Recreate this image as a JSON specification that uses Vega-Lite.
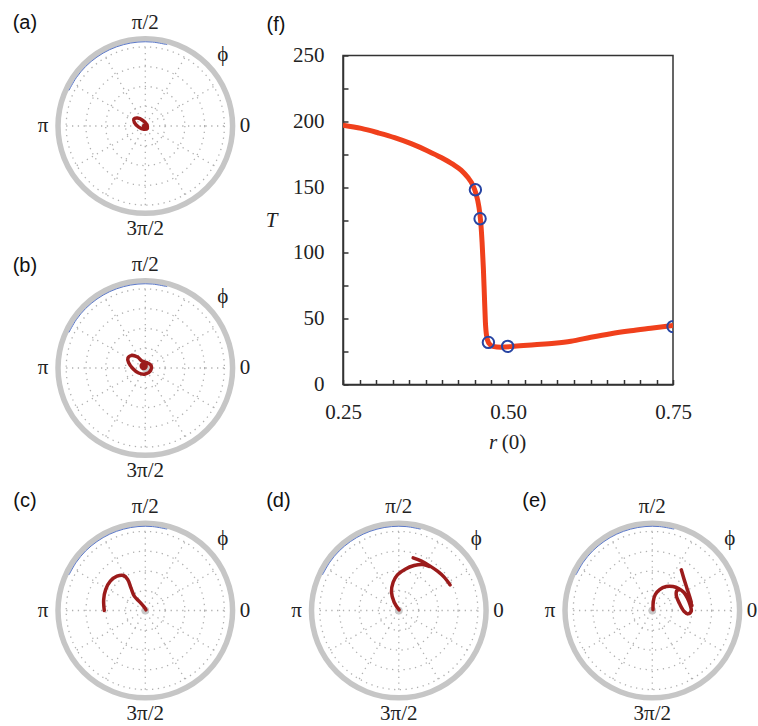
{
 "$schema": "https://vega.github.io/schema/vega-lite/v6.json",
 "padding": {"left": 12, "top": 11.5, "right": 0, "bottom": 0},
 "background": "white",
 "config": {"view": {"stroke": null}},
 "datasets": {
  "rays": [
   {"x": -0.92, "y": 0, "x2": 0.92, "y2": 0},
   {"x": -0.797, "y": -0.46, "x2": 0.797, "y2": 0.46},
   {"x": -0.46, "y": -0.797, "x2": 0.46, "y2": 0.797},
   {"x": 0, "y": -0.92, "x2": 0, "y2": 0.92},
   {"x": 0.46, "y": -0.797, "x2": -0.46, "y2": 0.797},
   {"x": 0.797, "y": -0.46, "x2": -0.797, "y2": 0.46}
  ],
  "circles": [
   {"x": 0, "y": 0, "r": 0.23},
   {"x": 0, "y": 0, "r": 0.46},
   {"x": 0, "y": 0, "r": 0.69},
   {"x": 0, "y": 0, "r": 0.92}
  ],
  "ring": [{"x": 0, "y": 0, "r": 1.015}],
  "center": [{"x": 0, "y": 0}],
  "blue": [
   {"i": 0, "x": 0.254, "y": 0.946},
   {"i": 1, "x": 0.085, "y": 0.976},
   {"i": 2, "x": -0.085, "y": 0.976},
   {"i": 3, "x": -0.254, "y": 0.946},
   {"i": 4, "x": -0.414, "y": 0.888},
   {"i": 5, "x": -0.562, "y": 0.802},
   {"i": 6, "x": -0.693, "y": 0.693},
   {"i": 7, "x": -0.802, "y": 0.562},
   {"i": 8, "x": -0.888, "y": 0.414}
  ],
  "labels": [
   {"t": "π/2", "x": 0, "y": 1.2},
   {"t": "3π/2", "x": 0, "y": -1.2},
   {"t": "π", "x": -1.19, "y": 0},
   {"t": "0", "x": 1.16, "y": 0},
   {"t": "ϕ", "x": 0.9, "y": 0.83}
  ],
  "plabels": [
   {"panel": "a", "t": "(a)", "x": -1.4, "y": 1.2},
   {"panel": "b", "t": "(b)", "x": -1.4, "y": 1.19},
   {"panel": "c", "t": "(c)", "x": -1.4, "y": 1.27},
   {"panel": "d", "t": "(d)", "x": -1.4, "y": 1.27},
   {"panel": "e", "t": "(e)", "x": -1.37, "y": 1.27}
  ],
  "traj": [
   {"panel": "a", "seg": 1, "i": 0, "x": 0.024, "y": -0.028},
   {"panel": "a", "seg": 1, "i": 1, "x": 0.019, "y": 0.015},
   {"panel": "a", "seg": 1, "i": 2, "x": -0.028, "y": 0.064},
   {"panel": "a", "seg": 1, "i": 3, "x": -0.091, "y": 0.092},
   {"panel": "a", "seg": 1, "i": 4, "x": -0.132, "y": 0.082},
   {"panel": "a", "seg": 1, "i": 5, "x": -0.127, "y": 0.04},
   {"panel": "a", "seg": 1, "i": 6, "x": -0.08, "y": -0.01},
   {"panel": "a", "seg": 1, "i": 7, "x": -0.017, "y": -0.038},
   {"panel": "a", "seg": 1, "i": 8, "x": 0.024, "y": -0.028},
   {"panel": "a", "seg": 1, "i": 9, "x": 0.019, "y": 0.015},

   {"panel": "b", "seg": 1, "i": 0, "x": -0.155, "y": 0.147},
   {"panel": "b", "seg": 1, "i": 1, "x": -0.089, "y": 0.128},
   {"panel": "b", "seg": 1, "i": 2, "x": -0.039, "y": 0.081},
   {"panel": "b", "seg": 1, "i": 3, "x": 0.019, "y": 0.062},
   {"panel": "b", "seg": 1, "i": 4, "x": 0.066, "y": 0.031},
   {"panel": "b", "seg": 1, "i": 5, "x": 0.058, "y": -0.035},
   {"panel": "b", "seg": 1, "i": 6, "x": 0.0, "y": -0.07},
   {"panel": "b", "seg": 1, "i": 7, "x": -0.078, "y": -0.058},
   {"panel": "b", "seg": 1, "i": 8, "x": -0.143, "y": -0.008},
   {"panel": "b", "seg": 1, "i": 9, "x": -0.194, "y": 0.062},
   {"panel": "b", "seg": 1, "i": 10, "x": -0.202, "y": 0.116},
   {"panel": "b", "seg": 1, "i": 11, "x": -0.155, "y": 0.147},
   {"panel": "b", "seg": 1, "i": 12, "x": -0.089, "y": 0.128},

   {"panel": "c", "seg": 1, "i": 0, "x": -0.477, "y": 0.0},
   {"panel": "c", "seg": 1, "i": 1, "x": -0.484, "y": 0.128},
   {"panel": "c", "seg": 1, "i": 2, "x": -0.461, "y": 0.244},
   {"panel": "c", "seg": 1, "i": 3, "x": -0.407, "y": 0.341},
   {"panel": "c", "seg": 1, "i": 4, "x": -0.329, "y": 0.399},
   {"panel": "c", "seg": 1, "i": 5, "x": -0.252, "y": 0.407},
   {"panel": "c", "seg": 1, "i": 6, "x": -0.205, "y": 0.36},
   {"panel": "c", "seg": 1, "i": 7, "x": -0.167, "y": 0.264},
   {"panel": "c", "seg": 1, "i": 8, "x": -0.128, "y": 0.167},
   {"panel": "c", "seg": 1, "i": 9, "x": -0.066, "y": 0.101},
   {"panel": "c", "seg": 1, "i": 10, "x": -0.012, "y": 0.039},
   {"panel": "c", "seg": 1, "i": 11, "x": 0.008, "y": 0.008},

   {"panel": "d", "seg": 1, "i": 0, "x": 0.004, "y": 0.008},
   {"panel": "d", "seg": 1, "i": 1, "x": -0.054, "y": 0.097},
   {"panel": "d", "seg": 1, "i": 2, "x": -0.085, "y": 0.213},
   {"panel": "d", "seg": 1, "i": 3, "x": -0.066, "y": 0.329},
   {"panel": "d", "seg": 1, "i": 4, "x": -0.016, "y": 0.415},
   {"panel": "d", "seg": 1, "i": 5, "x": 0.074, "y": 0.481},
   {"panel": "d", "seg": 1, "i": 6, "x": 0.178, "y": 0.523},
   {"panel": "d", "seg": 1, "i": 7, "x": 0.275, "y": 0.535},
   {"panel": "d", "seg": 1, "i": 8, "x": 0.353, "y": 0.512},
   {"panel": "d", "seg": 2, "i": 0, "x": 0.167, "y": 0.612},
   {"panel": "d", "seg": 2, "i": 1, "x": 0.264, "y": 0.574},
   {"panel": "d", "seg": 2, "i": 2, "x": 0.36, "y": 0.519},
   {"panel": "d", "seg": 2, "i": 3, "x": 0.45, "y": 0.457},
   {"panel": "d", "seg": 2, "i": 4, "x": 0.527, "y": 0.388},
   {"panel": "d", "seg": 2, "i": 5, "x": 0.597, "y": 0.298},

   {"panel": "e", "seg": 1, "i": 0, "x": 0.008, "y": 0.008},
   {"panel": "e", "seg": 1, "i": 1, "x": 0.012, "y": 0.109},
   {"panel": "e", "seg": 1, "i": 2, "x": 0.035, "y": 0.186},
   {"panel": "e", "seg": 1, "i": 3, "x": 0.085, "y": 0.244},
   {"panel": "e", "seg": 1, "i": 4, "x": 0.163, "y": 0.279},
   {"panel": "e", "seg": 1, "i": 5, "x": 0.24, "y": 0.279},
   {"panel": "e", "seg": 1, "i": 6, "x": 0.306, "y": 0.256},
   {"panel": "e", "seg": 1, "i": 7, "x": 0.368, "y": 0.209},
   {"panel": "e", "seg": 1, "i": 8, "x": 0.407, "y": 0.147},
   {"panel": "e", "seg": 1, "i": 9, "x": 0.438, "y": 0.07},
   {"panel": "e", "seg": 1, "i": 10, "x": 0.453, "y": -0.008},
   {"panel": "e", "seg": 1, "i": 11, "x": 0.415, "y": -0.039},
   {"panel": "e", "seg": 1, "i": 12, "x": 0.368, "y": -0.008},
   {"panel": "e", "seg": 1, "i": 13, "x": 0.318, "y": 0.078},
   {"panel": "e", "seg": 1, "i": 14, "x": 0.279, "y": 0.174},
   {"panel": "e", "seg": 1, "i": 15, "x": 0.287, "y": 0.233},
   {"panel": "e", "seg": 1, "i": 16, "x": 0.329, "y": 0.24},
   {"panel": "e", "seg": 1, "i": 17, "x": 0.384, "y": 0.194},
   {"panel": "e", "seg": 1, "i": 18, "x": 0.434, "y": 0.116},
   {"panel": "e", "seg": 1, "i": 19, "x": 0.461, "y": 0.058},
   {"panel": "e", "seg": 2, "i": 0, "x": 0.337, "y": 0.473},
   {"panel": "e", "seg": 2, "i": 1, "x": 0.368, "y": 0.368},
   {"panel": "e", "seg": 2, "i": 2, "x": 0.399, "y": 0.271},
   {"panel": "e", "seg": 2, "i": 3, "x": 0.434, "y": 0.163},
   {"panel": "e", "seg": 2, "i": 4, "x": 0.453, "y": 0.097}
  ],
  "dots": [
   {"panel": "a", "x": -0.005, "y": -0.005},
   {"panel": "b", "x": -0.019, "y": 0.023}
  ],
  "curve": [
   {"r": 0.25, "T": 197.1}, {"r": 0.2777, "T": 194.6}, {"r": 0.3029, "T": 191.3},
   {"r": 0.3281, "T": 187.6}, {"r": 0.3533, "T": 183.0}, {"r": 0.3785, "T": 177.5},
   {"r": 0.3987, "T": 172.5}, {"r": 0.4163, "T": 167.4}, {"r": 0.4289, "T": 162.9},
   {"r": 0.439, "T": 157.4}, {"r": 0.4466, "T": 151.6}, {"r": 0.4516, "T": 144.8},
   {"r": 0.4556, "T": 136.0}, {"r": 0.4587, "T": 123.4}, {"r": 0.4607, "T": 108.3},
   {"r": 0.4627, "T": 88.1}, {"r": 0.4642, "T": 68.0}, {"r": 0.4657, "T": 47.8},
   {"r": 0.4677, "T": 36.5}, {"r": 0.4708, "T": 31.5}, {"r": 0.4768, "T": 29.0},
   {"r": 0.4894, "T": 28.4}, {"r": 0.5096, "T": 29.0}, {"r": 0.5398, "T": 30.2},
   {"r": 0.5701, "T": 31.4}, {"r": 0.5953, "T": 32.9}, {"r": 0.6255, "T": 35.9},
   {"r": 0.6557, "T": 38.6}, {"r": 0.686, "T": 40.8}, {"r": 0.7162, "T": 42.7},
   {"r": 0.75, "T": 44.8}
  ],
  "marks": [
   {"r": 0.4506, "T": 148}, {"r": 0.4577, "T": 126}, {"r": 0.4703, "T": 32},
   {"r": 0.4995, "T": 29}, {"r": 0.75, "T": 44}
  ],
  "ftitle": [{"t": "(f)", "r": 0.25, "T": 250}],
  "rlab": [{"t": "r", "r": 0.5, "T": 0}],
  "zlab": [{"t": "(0)", "r": 0.5, "T": 0}]
 },
 "vconcat": [
  {
   "hconcat": [
    {
     "vconcat": [
      {
       "width": 240, "height": 230,
       "encoding": {
        "x": {"field": "x", "type": "quantitative", "scale": {"domain": [-1.55, 1.2407], "nice": false, "zero": false}, "axis": null},
        "y": {"field": "y", "type": "quantitative", "scale": {"domain": [-1.3544, 1.32], "nice": false, "zero": false}, "axis": null}
       },
       "layer": [
        {"data": {"name": "rays"}, "mark": {"type": "rule", "color": "#b0b0b0", "strokeWidth": 1.3, "strokeDash": [1.3, 4.5]}, "encoding": {"x2": {"field": "x2"}, "y2": {"field": "y2"}}},
        {"data": {"name": "circles"}, "mark": {"type": "point", "shape": "circle", "filled": false, "color": "#b0b0b0", "strokeWidth": 1.3, "strokeDash": [1.3, 4.5], "opacity": 1}, "encoding": {"size": {"field": "r", "type": "quantitative", "scale": {"type": "pow", "exponent": 2, "domain": [0, 1], "range": [0, 29584]}, "legend": null}}},
        {"data": {"name": "ring"}, "mark": {"type": "point", "shape": "circle", "filled": false, "color": "#c6c6c6", "strokeWidth": 5.5, "opacity": 1}, "encoding": {"size": {"field": "r", "type": "quantitative", "scale": {"type": "pow", "exponent": 2, "domain": [0, 1], "range": [0, 29584]}, "legend": null}}},
        {"data": {"name": "blue"}, "mark": {"type": "line", "color": "#5b78c8", "strokeWidth": 1, "interpolate": "cardinal"}, "encoding": {"order": {"field": "i"}}},
        {"data": {"name": "center"}, "mark": {"type": "point", "shape": "circle", "filled": true, "color": "#c8c8c8", "size": 60, "opacity": 1}},
        {"data": {"name": "traj"}, "transform": [{"filter": "datum.panel == 'a'"}], "mark": {"type": "line", "color": "#9b1b1b", "strokeWidth": 3.5, "interpolate": "catmull-rom", "strokeCap": "round", "strokeJoin": "round"}, "encoding": {"order": {"field": "i"}, "detail": {"field": "seg"}}},
        {"data": {"name": "dots"}, "transform": [{"filter": "datum.panel == 'a'"}], "mark": {"type": "point", "shape": "circle", "filled": true, "color": "#9b1b1b", "size": 35, "opacity": 1}},
        {"data": {"name": "labels"}, "mark": {"type": "text", "font": "Liberation Serif", "fontSize": 21, "color": "#222"}, "encoding": {"text": {"field": "t"}}},
        {"data": {"name": "plabels"}, "transform": [{"filter": "datum.panel == 'a'"}], "mark": {"type": "text", "font": "Liberation Sans", "fontSize": 20, "color": "#111"}, "encoding": {"text": {"field": "t"}}}
       ]
      },
      {
       "width": 240, "height": 230,
       "encoding": {
        "x": {"field": "x", "type": "quantitative", "scale": {"domain": [-1.55, 1.2407], "nice": false, "zero": false}, "axis": null},
        "y": {"field": "y", "type": "quantitative", "scale": {"domain": [-1.3544, 1.32], "nice": false, "zero": false}, "axis": null}
       },
       "layer": [
        {"data": {"name": "rays"}, "mark": {"type": "rule", "color": "#b0b0b0", "strokeWidth": 1.3, "strokeDash": [1.3, 4.5]}, "encoding": {"x2": {"field": "x2"}, "y2": {"field": "y2"}}},
        {"data": {"name": "circles"}, "mark": {"type": "point", "shape": "circle", "filled": false, "color": "#b0b0b0", "strokeWidth": 1.3, "strokeDash": [1.3, 4.5], "opacity": 1}, "encoding": {"size": {"field": "r", "type": "quantitative", "scale": {"type": "pow", "exponent": 2, "domain": [0, 1], "range": [0, 29584]}, "legend": null}}},
        {"data": {"name": "ring"}, "mark": {"type": "point", "shape": "circle", "filled": false, "color": "#c6c6c6", "strokeWidth": 5.5, "opacity": 1}, "encoding": {"size": {"field": "r", "type": "quantitative", "scale": {"type": "pow", "exponent": 2, "domain": [0, 1], "range": [0, 29584]}, "legend": null}}},
        {"data": {"name": "blue"}, "mark": {"type": "line", "color": "#5b78c8", "strokeWidth": 1, "interpolate": "cardinal"}, "encoding": {"order": {"field": "i"}}},
        {"data": {"name": "center"}, "mark": {"type": "point", "shape": "circle", "filled": true, "color": "#c8c8c8", "size": 60, "opacity": 1}},
        {"data": {"name": "traj"}, "transform": [{"filter": "datum.panel == 'b'"}], "mark": {"type": "line", "color": "#9b1b1b", "strokeWidth": 3.5, "interpolate": "catmull-rom", "strokeCap": "round", "strokeJoin": "round"}, "encoding": {"order": {"field": "i"}, "detail": {"field": "seg"}}},
        {"data": {"name": "dots"}, "transform": [{"filter": "datum.panel == 'b'"}], "mark": {"type": "point", "shape": "circle", "filled": true, "color": "#9b1b1b", "size": 70, "opacity": 1}},
        {"data": {"name": "labels"}, "mark": {"type": "text", "font": "Liberation Serif", "fontSize": 21, "color": "#222"}, "encoding": {"text": {"field": "t"}}},
        {"data": {"name": "plabels"}, "transform": [{"filter": "datum.panel == 'b'"}], "mark": {"type": "text", "font": "Liberation Sans", "fontSize": 20, "color": "#111"}, "encoding": {"text": {"field": "t"}}}
       ]
      }
     ],
     "spacing": 11
    },
    {
     "vconcat": [
      {
       "width": 330, "height": 1,
       "data": {"name": "ftitle"},
       "mark": {"type": "rule", "opacity": 0, "strokeOpacity": 0},
       "encoding": {"y": {"value": 0}}
      },
      {
       "width": 330, "height": 329,
       "view": {"stroke": "#333", "strokeWidth": 1.5},
       "encoding": {
        "x": {"field": "r", "type": "quantitative", "scale": {"domain": [0.25, 0.75], "nice": false, "zero": false},
         "axis": {"values": [0.25, 0.275, 0.3, 0.325, 0.35, 0.375, 0.4, 0.425, 0.45, 0.475, 0.5, 0.525, 0.55, 0.575, 0.6, 0.625, 0.65, 0.675, 0.7, 0.725, 0.75],
          "labelExpr": "datum.value == 0.25 || datum.value == 0.5 || datum.value == 0.75 ? format(datum.value, '.2f') : ''",
          "tickSize": -5, "tickWidth": 1.5, "tickColor": "#333", "domainColor": "#333", "domainWidth": 1.5,
          "labelFont": "Liberation Serif", "labelFontSize": 21, "labelColor": "#222", "labelPadding": 21.5,
          "labelOverlap": false, "labelFlush": false, "grid": false, "title": null}},
        "y": {"field": "T", "type": "quantitative", "scale": {"domain": [0, 250], "nice": false, "zero": false},
         "axis": {"values": [0, 25, 50, 75, 100, 125, 150, 175, 200, 225, 250],
          "labelExpr": "datum.value % 50 == 0 ? datum.label : ''",
          "tickSize": -5, "tickWidth": 1.5, "tickColor": "#333", "domainColor": "#333", "domainWidth": 1.5,
          "labelFont": "Liberation Serif", "labelFontSize": 21, "labelColor": "#222", "labelPadding": 24,
          "labelOverlap": false, "labelFlush": false, "grid": false,
          "title": "T", "titleFont": "Liberation Serif", "titleFontStyle": "italic", "titleFontWeight": "normal", "titleFontSize": 21,
          "titleColor": "#222", "titleAngle": 0, "titleX": -72, "titleY": 165, "titleAlign": "center", "titleBaseline": "middle"}}
       },
       "layer": [
        {"data": {"name": "curve"}, "mark": {"type": "line", "color": "#f0401c", "strokeWidth": 5, "interpolate": "monotone", "clip": true}},
        {"data": {"name": "marks"}, "mark": {"type": "point", "shape": "circle", "filled": false, "color": "#2845a3", "strokeWidth": 2, "size": 130, "opacity": 1, "clip": true}},
        {"data": {"name": "ftitle"}, "mark": {"type": "text", "font": "Liberation Sans", "fontSize": 20, "color": "#111", "dx": -67, "dy": -31}, "encoding": {"text": {"field": "t"}}},
        {"data": {"name": "rlab"}, "mark": {"type": "text", "font": "Liberation Serif", "fontStyle": "italic", "fontSize": 21, "color": "#222", "dx": -15, "dy": 58}, "encoding": {"text": {"field": "t"}}},
        {"data": {"name": "zlab"}, "mark": {"type": "text", "font": "Liberation Serif", "fontSize": 21, "color": "#222", "dx": 6, "dy": 58}, "encoding": {"text": {"field": "t"}}}
       ]
      }
     ],
     "spacing": 0
    }
   ],
   "spacing": 12
  },
  {
   "hconcat": [
    {
     "width": 240, "height": 230,
     "encoding": {
      "x": {"field": "x", "type": "quantitative", "scale": {"domain": [-1.55, 1.2407], "nice": false, "zero": false}, "axis": null},
      "y": {"field": "y", "type": "quantitative", "scale": {"domain": [-1.3544, 1.32], "nice": false, "zero": false}, "axis": null}
     },
     "layer": [
      {"data": {"name": "rays"}, "mark": {"type": "rule", "color": "#b0b0b0", "strokeWidth": 1.3, "strokeDash": [1.3, 4.5]}, "encoding": {"x2": {"field": "x2"}, "y2": {"field": "y2"}}},
      {"data": {"name": "circles"}, "mark": {"type": "point", "shape": "circle", "filled": false, "color": "#b0b0b0", "strokeWidth": 1.3, "strokeDash": [1.3, 4.5], "opacity": 1}, "encoding": {"size": {"field": "r", "type": "quantitative", "scale": {"type": "pow", "exponent": 2, "domain": [0, 1], "range": [0, 29584]}, "legend": null}}},
      {"data": {"name": "ring"}, "mark": {"type": "point", "shape": "circle", "filled": false, "color": "#c6c6c6", "strokeWidth": 5.5, "opacity": 1}, "encoding": {"size": {"field": "r", "type": "quantitative", "scale": {"type": "pow", "exponent": 2, "domain": [0, 1], "range": [0, 29584]}, "legend": null}}},
      {"data": {"name": "blue"}, "mark": {"type": "line", "color": "#5b78c8", "strokeWidth": 1, "interpolate": "cardinal"}, "encoding": {"order": {"field": "i"}}},
      {"data": {"name": "center"}, "mark": {"type": "point", "shape": "circle", "filled": true, "color": "#c8c8c8", "size": 60, "opacity": 1}},
      {"data": {"name": "traj"}, "transform": [{"filter": "datum.panel == 'c'"}], "mark": {"type": "line", "color": "#9b1b1b", "strokeWidth": 3.5, "interpolate": "catmull-rom", "strokeCap": "round", "strokeJoin": "round"}, "encoding": {"order": {"field": "i"}, "detail": {"field": "seg"}}},
      {"data": {"name": "labels"}, "mark": {"type": "text", "font": "Liberation Serif", "fontSize": 21, "color": "#222"}, "encoding": {"text": {"field": "t"}}},
      {"data": {"name": "plabels"}, "transform": [{"filter": "datum.panel == 'c'"}], "mark": {"type": "text", "font": "Liberation Sans", "fontSize": 20, "color": "#111"}, "encoding": {"text": {"field": "t"}}}
     ]
    },
    {
     "width": 240, "height": 230,
     "encoding": {
      "x": {"field": "x", "type": "quantitative", "scale": {"domain": [-1.55, 1.2407], "nice": false, "zero": false}, "axis": null},
      "y": {"field": "y", "type": "quantitative", "scale": {"domain": [-1.3544, 1.32], "nice": false, "zero": false}, "axis": null}
     },
     "layer": [
      {"data": {"name": "rays"}, "mark": {"type": "rule", "color": "#b0b0b0", "strokeWidth": 1.3, "strokeDash": [1.3, 4.5]}, "encoding": {"x2": {"field": "x2"}, "y2": {"field": "y2"}}},
      {"data": {"name": "circles"}, "mark": {"type": "point", "shape": "circle", "filled": false, "color": "#b0b0b0", "strokeWidth": 1.3, "strokeDash": [1.3, 4.5], "opacity": 1}, "encoding": {"size": {"field": "r", "type": "quantitative", "scale": {"type": "pow", "exponent": 2, "domain": [0, 1], "range": [0, 29584]}, "legend": null}}},
      {"data": {"name": "ring"}, "mark": {"type": "point", "shape": "circle", "filled": false, "color": "#c6c6c6", "strokeWidth": 5.5, "opacity": 1}, "encoding": {"size": {"field": "r", "type": "quantitative", "scale": {"type": "pow", "exponent": 2, "domain": [0, 1], "range": [0, 29584]}, "legend": null}}},
      {"data": {"name": "blue"}, "mark": {"type": "line", "color": "#5b78c8", "strokeWidth": 1, "interpolate": "cardinal"}, "encoding": {"order": {"field": "i"}}},
      {"data": {"name": "center"}, "mark": {"type": "point", "shape": "circle", "filled": true, "color": "#c8c8c8", "size": 60, "opacity": 1}},
      {"data": {"name": "traj"}, "transform": [{"filter": "datum.panel == 'd'"}], "mark": {"type": "line", "color": "#9b1b1b", "strokeWidth": 3.5, "interpolate": "catmull-rom", "strokeCap": "round", "strokeJoin": "round"}, "encoding": {"order": {"field": "i"}, "detail": {"field": "seg"}}},
      {"data": {"name": "labels"}, "mark": {"type": "text", "font": "Liberation Serif", "fontSize": 21, "color": "#222"}, "encoding": {"text": {"field": "t"}}},
      {"data": {"name": "plabels"}, "transform": [{"filter": "datum.panel == 'd'"}], "mark": {"type": "text", "font": "Liberation Sans", "fontSize": 20, "color": "#111"}, "encoding": {"text": {"field": "t"}}}
     ]
    },
    {
     "width": 240, "height": 230,
     "encoding": {
      "x": {"field": "x", "type": "quantitative", "scale": {"domain": [-1.55, 1.2407], "nice": false, "zero": false}, "axis": null},
      "y": {"field": "y", "type": "quantitative", "scale": {"domain": [-1.3544, 1.32], "nice": false, "zero": false}, "axis": null}
     },
     "layer": [
      {"data": {"name": "rays"}, "mark": {"type": "rule", "color": "#b0b0b0", "strokeWidth": 1.3, "strokeDash": [1.3, 4.5]}, "encoding": {"x2": {"field": "x2"}, "y2": {"field": "y2"}}},
      {"data": {"name": "circles"}, "mark": {"type": "point", "shape": "circle", "filled": false, "color": "#b0b0b0", "strokeWidth": 1.3, "strokeDash": [1.3, 4.5], "opacity": 1}, "encoding": {"size": {"field": "r", "type": "quantitative", "scale": {"type": "pow", "exponent": 2, "domain": [0, 1], "range": [0, 29584]}, "legend": null}}},
      {"data": {"name": "ring"}, "mark": {"type": "point", "shape": "circle", "filled": false, "color": "#c6c6c6", "strokeWidth": 5.5, "opacity": 1}, "encoding": {"size": {"field": "r", "type": "quantitative", "scale": {"type": "pow", "exponent": 2, "domain": [0, 1], "range": [0, 29584]}, "legend": null}}},
      {"data": {"name": "blue"}, "mark": {"type": "line", "color": "#5b78c8", "strokeWidth": 1, "interpolate": "cardinal"}, "encoding": {"order": {"field": "i"}}},
      {"data": {"name": "center"}, "mark": {"type": "point", "shape": "circle", "filled": true, "color": "#c8c8c8", "size": 60, "opacity": 1}},
      {"data": {"name": "traj"}, "transform": [{"filter": "datum.panel == 'e'"}], "mark": {"type": "line", "color": "#9b1b1b", "strokeWidth": 3.5, "interpolate": "catmull-rom", "strokeCap": "round", "strokeJoin": "round"}, "encoding": {"order": {"field": "i"}, "detail": {"field": "seg"}}},
      {"data": {"name": "labels"}, "mark": {"type": "text", "font": "Liberation Serif", "fontSize": 21, "color": "#222"}, "encoding": {"text": {"field": "t"}}},
      {"data": {"name": "plabels"}, "transform": [{"filter": "datum.panel == 'e'"}], "mark": {"type": "text", "font": "Liberation Sans", "fontSize": 20, "color": "#111"}, "encoding": {"text": {"field": "t"}}}
     ]
    }
   ],
   "spacing": 13.5
  }
 ],
 "spacing": 6.5
}
